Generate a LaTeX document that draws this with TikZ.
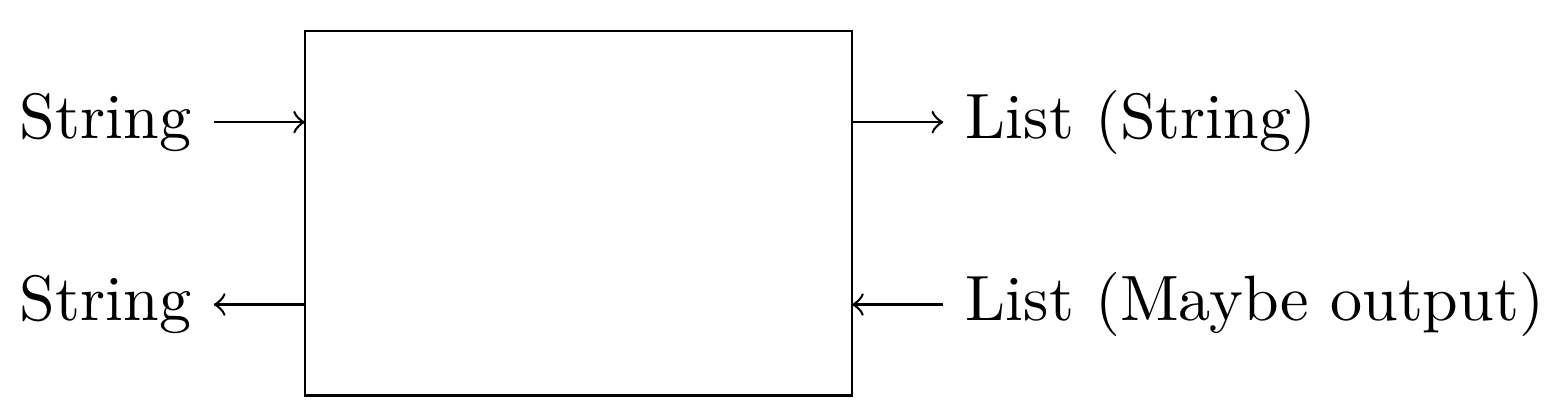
\documentclass[tikz,border=0pt]{standalone}
\begin{document}
\begin{tikzpicture}[
  lbl/.style={inner sep=3.33pt},
  conn/.style={->}
]
\useasboundingbox (-47.58pt,-3.12pt) rectangle (195.5pt,61.74pt);
\draw (0,0) rectangle (3,2);
\coordinate (l1) at (0,1.5);
\coordinate (l2) at (0,0.5);
\coordinate (r1) at (3,1.5);
\coordinate (r2) at (3,0.5);
\node[lbl,anchor=east] (sin) at (-0.5,1.5) {String};
\node[lbl,anchor=east] (sout) at (-0.5,0.5) {String};
\node[lbl,anchor=west] (lout) at (3.5,1.5) {List (String)};
\node[lbl,anchor=west] (lin) at (3.5,0.5) {List (Maybe output)};
\draw[conn] (sin) -- (l1);
\draw[conn] (l2) -- (sout);
\draw[conn] (r1) -- (lout);
\draw[conn] (lin) -- (r2);
\end{tikzpicture}
\end{document}
